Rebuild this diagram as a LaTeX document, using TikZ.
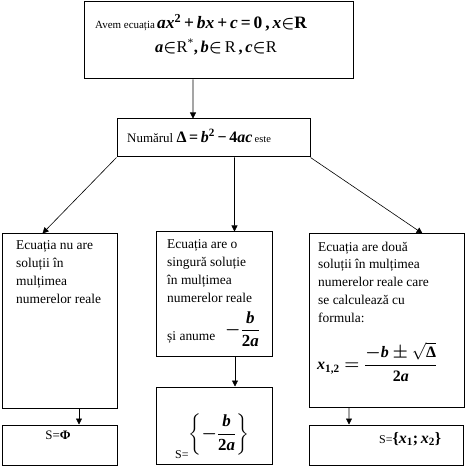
\documentclass[tikz,border=0pt]{standalone}
\usepackage{amsmath}
\usepackage{fontspec}
\setmainfont{Liberation Serif}
\usetikzlibrary{arrows.meta}
\newcommand{\vb}[1]{\textbf{\textit{#1}}}
\newcommand{\bin}{{\boldmath$\in$}}
\begin{document}
\begin{tikzpicture}[x=1bp, y=-1bp,
  box/.style={draw, line width=1bp, inner sep=0pt},
  arr/.style={-{Triangle[length=6bp,width=6bp]}, line width=0.6bp},
  txt/.style={anchor=base west, inner sep=0pt, font=\fontsize{13.5}{18}\selectfont},
  para/.style={anchor=north west, inner sep=0pt, align=left, font=\fontsize{13.5}{18}\selectfont}]
  \useasboundingbox (0,0) rectangle (467,467);
  % Boxes
  \node[box, minimum width=269bp, minimum height=77bp] (eq) at (218.5,40.5) {};
  \node[box, minimum width=193bp, minimum height=38bp] (disc) at (213.5,138) {};
  \node[box, minimum width=114bp, minimum height=174bp] (none) at (60,321) {};
  \node[box, minimum width=116bp, minimum height=124bp] (one) at (214,294) {};
  \node[box, minimum width=155bp, minimum height=173bp] (two) at (386.5,320.5) {};
  \node[box, minimum width=114bp, minimum height=40bp] (snone) at (60,445) {};
  \node[box, minimum width=116bp, minimum height=77bp] (sone) at (214,425.5) {};
  \node[box, minimum width=154bp, minimum height=40bp] (stwo) at (386,445) {};
  % Arrows
  \draw[arr] ([xshift=-25.5bp]eq.south) -- ([xshift=-20.5bp]disc.north);
  \draw[arr] (disc.south west) -- ([xshift=40bp]none.north west);
  \draw[arr] ([xshift=21bp]disc.south) -- ([xshift=20.5bp]one.north);
  \draw[arr] (disc.south east) -- ([xshift=114bp]two.north west);
  \draw[arr] ([xshift=19bp]none.south) -- ([xshift=19bp]snone.north);
  \draw[arr] ([xshift=21bp]one.south) -- ([xshift=21bp]sone.north);
  \draw[arr] ([xshift=-37.5bp]two.south) -- ([xshift=-37bp]stwo.north);
  % The equation
  \node[txt, font=\fontsize{11}{13}\selectfont] (eqa) at (95,29) {Avem ecuația};
  \node[txt, font=\fontsize{17.5}{20}\selectfont] (eqb) at (157,29)
    {\vb{ax}\textsuperscript{\textbf{2}}\,\textbf{+}\,\vb{bx}\,\textbf{+}\,\vb{c}\,\textbf{=}\,\textbf{0}\,\textbf{,}\,\vb{x}\bin\textbf{R}};
  \node[txt, font=\fontsize{16.5}{18}\selectfont] (eqc) at (155,53)
    {\vb{a}\bin R\textsuperscript{*}\textbf{,}\,\vb{b}\bin\,R\,\textbf{,}\,\vb{c}\bin R};
  % Discriminant
  \node[txt] (disct) at (127,143)
    {{\fontsize{13}{15}\selectfont Numărul}\ {\fontsize{16}{18}\selectfont\textbf{Δ}\,\textbf{=}\,\vb{b}\textsuperscript{\textbf{2}}\,\textbf{−}\,\textbf{4}\vb{ac}}\,{\fontsize{10.5}{13}\selectfont este}};
  % Three cases
  \node[para] (nonet) at (16,240.5) {Ecuația nu are\\soluții în\\mulțimea\\numerelor reale};
  \node[para] (onet) at (167,239.5) {Ecuația are o\\singură soluție\\în mulțimea\\numerelor reale};
  \node[txt] (onea) at (167,340) {și anume};
  \node[anchor=west, inner sep=0pt, font=\fontsize{17}{18}\selectfont] (onef) at (225,329)
    {$\boldsymbol{-}\dfrac{\vb{b}}{\textbf{2}\vb{a}}$};
  \node[para] (twot) at (318,241.5) {Ecuația are două\\soluții în mulțimea\\numerelor reale care\\se calculează cu\\formula:};
  \node[anchor=west, inner sep=0pt, font=\fontsize{16}{18}\selectfont] (twof) at (317,362)
    {$\vb{x}_{\textbf{1,2}}\boldsymbol{=}\dfrac{\boldsymbol{-}\vb{b}\boldsymbol{\pm}\sqrt{\textbf{Δ}}}{\textbf{2}\vb{a}}$};
  % Solution sets
  \node[anchor=base, inner sep=0pt, font=\fontsize{13}{15}\selectfont] (snonet) at (58,439) {S=\textbf{Φ}};
  \node[txt, font=\fontsize{12}{14}\selectfont] (sonea) at (175,458) {S=};
  \node[anchor=center, inner sep=0pt, font=\fontsize{17}{18}\selectfont] (soneb) at (219,434)
    {$\left\{\boldsymbol{-}\dfrac{\vb{b}}{\textbf{2}\vb{a}}\right\}$};
  \node[txt, font=\fontsize{12}{14}\selectfont] (stwot) at (379,443)
    {S=\fontsize{16}{18}\selectfont\textbf{\{}\vb{x}\textsubscript{\textbf{1}}\textbf{;}\,\vb{x}\textsubscript{\textbf{2}}\textbf{\}}};
\end{tikzpicture}
\end{document}
